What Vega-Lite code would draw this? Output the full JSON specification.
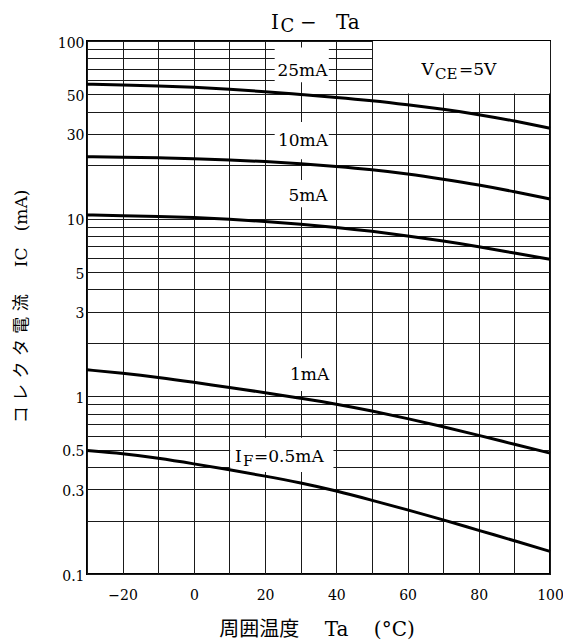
{
  "$schema": "https://vega.github.io/schema/vega-lite/v6.json",
  "width": 463,
  "height": 533,
  "autosize": {"type": "none"},
  "padding": {"left": 87, "top": 41, "right": 13, "bottom": 70},
  "background": "white",
  "config": {
    "view": {"stroke": "black", "strokeWidth": 2},
    "text": {"font": "DejaVu Serif", "color": "black"}
  },
  "datasets": {
    "curves": [
      {"T": -30, "Ic": 57.1, "s": "25mA"}, {"T": -20, "Ic": 56.6, "s": "25mA"}, {"T": -10, "Ic": 55.9, "s": "25mA"}, {"T": 0, "Ic": 55.0, "s": "25mA"}, {"T": 10, "Ic": 53.6, "s": "25mA"}, {"T": 20, "Ic": 51.9, "s": "25mA"}, {"T": 30, "Ic": 50.0, "s": "25mA"}, {"T": 40, "Ic": 48.2, "s": "25mA"}, {"T": 50, "Ic": 46.2, "s": "25mA"}, {"T": 60, "Ic": 43.8, "s": "25mA"}, {"T": 70, "Ic": 41.3, "s": "25mA"}, {"T": 80, "Ic": 38.6, "s": "25mA"}, {"T": 90, "Ic": 35.5, "s": "25mA"}, {"T": 100, "Ic": 32.3, "s": "25mA"},
      {"T": -30, "Ic": 22.3, "s": "10mA"}, {"T": -20, "Ic": 22.2, "s": "10mA"}, {"T": -10, "Ic": 22.0, "s": "10mA"}, {"T": 0, "Ic": 21.8, "s": "10mA"}, {"T": 10, "Ic": 21.4, "s": "10mA"}, {"T": 20, "Ic": 21.0, "s": "10mA"}, {"T": 30, "Ic": 20.4, "s": "10mA"}, {"T": 40, "Ic": 19.7, "s": "10mA"}, {"T": 50, "Ic": 18.9, "s": "10mA"}, {"T": 60, "Ic": 17.9, "s": "10mA"}, {"T": 70, "Ic": 16.7, "s": "10mA"}, {"T": 80, "Ic": 15.5, "s": "10mA"}, {"T": 90, "Ic": 14.2, "s": "10mA"}, {"T": 100, "Ic": 12.9, "s": "10mA"},
      {"T": -30, "Ic": 10.5, "s": "5mA"}, {"T": -20, "Ic": 10.4, "s": "5mA"}, {"T": -10, "Ic": 10.3, "s": "5mA"}, {"T": 0, "Ic": 10.15, "s": "5mA"}, {"T": 10, "Ic": 9.93, "s": "5mA"}, {"T": 20, "Ic": 9.64, "s": "5mA"}, {"T": 30, "Ic": 9.32, "s": "5mA"}, {"T": 40, "Ic": 8.94, "s": "5mA"}, {"T": 50, "Ic": 8.50, "s": "5mA"}, {"T": 60, "Ic": 8.0, "s": "5mA"}, {"T": 70, "Ic": 7.49, "s": "5mA"}, {"T": 80, "Ic": 6.96, "s": "5mA"}, {"T": 90, "Ic": 6.40, "s": "5mA"}, {"T": 100, "Ic": 5.91, "s": "5mA"},
      {"T": -30, "Ic": 1.41, "s": "1mA"}, {"T": -20, "Ic": 1.35, "s": "1mA"}, {"T": -10, "Ic": 1.28, "s": "1mA"}, {"T": 0, "Ic": 1.20, "s": "1mA"}, {"T": 10, "Ic": 1.12, "s": "1mA"}, {"T": 20, "Ic": 1.05, "s": "1mA"}, {"T": 30, "Ic": 0.975, "s": "1mA"}, {"T": 40, "Ic": 0.905, "s": "1mA"}, {"T": 50, "Ic": 0.828, "s": "1mA"}, {"T": 60, "Ic": 0.750, "s": "1mA"}, {"T": 70, "Ic": 0.675, "s": "1mA"}, {"T": 80, "Ic": 0.603, "s": "1mA"}, {"T": 90, "Ic": 0.537, "s": "1mA"}, {"T": 100, "Ic": 0.479, "s": "1mA"},
      {"T": -30, "Ic": 0.495, "s": "0.5mA"}, {"T": -20, "Ic": 0.476, "s": "0.5mA"}, {"T": -10, "Ic": 0.449, "s": "0.5mA"}, {"T": 0, "Ic": 0.417, "s": "0.5mA"}, {"T": 10, "Ic": 0.386, "s": "0.5mA"}, {"T": 20, "Ic": 0.356, "s": "0.5mA"}, {"T": 30, "Ic": 0.326, "s": "0.5mA"}, {"T": 40, "Ic": 0.294, "s": "0.5mA"}, {"T": 50, "Ic": 0.260, "s": "0.5mA"}, {"T": 60, "Ic": 0.230, "s": "0.5mA"}, {"T": 70, "Ic": 0.202, "s": "0.5mA"}, {"T": 80, "Ic": 0.176, "s": "0.5mA"}, {"T": 90, "Ic": 0.154, "s": "0.5mA"}, {"T": 100, "Ic": 0.134, "s": "0.5mA"}
    ],
    "boxes": [
      {"T": 50.3, "T2": 100, "Ic": 50.7, "Ic2": 100},
      {"T": 22.7, "T2": 37.9, "Ic": 58.5, "Ic2": 92},
      {"T": 22.7, "T2": 37.9, "Ic": 21.6, "Ic2": 35},
      {"T": 25.5, "T2": 37.5, "Ic": 11.6, "Ic2": 16.5},
      {"T": 25.5, "T2": 37.5, "Ic": 1.07, "Ic2": 1.64},
      {"T": 10.2, "T2": 39.2, "Ic": 0.375, "Ic2": 0.585}
    ],
    "labels": [
      {"T": 30.5, "Ic": 67.8, "t": "25mA"},
      {"T": 30.65, "Ic": 27.4, "t": "10mA"},
      {"T": 32.05, "Ic": 13.33, "t": "5mA"},
      {"T": 32.5, "Ic": 1.31, "t": "1mA"}
    ],
    "mainPieces": [
      {"T": 63.92, "Ic": 64.4, "t": "V"},
      {"T": 74.45, "Ic": 64.4, "t": "=5V"},
      {"T": 11.56, "Ic": 0.4285, "t": "I"},
      {"T": 16.89, "Ic": 0.4285, "t": "=0.5mA"}
    ],
    "subPieces": [
      {"T": 67.71, "Ic": 61.5, "t": "CE"},
      {"T": 13.8, "Ic": 0.4055, "t": "F"}
    ],
    "titlePieces": [
      {"T": 21.66, "Ic": 117.3, "t": "I"},
      {"T": 29.81, "Ic": 117.3, "t": "−"},
      {"T": 39.91, "Ic": 117.3, "t": "Ta"}
    ],
    "titleSub": [
      {"T": 24.33, "Ic": 112.4, "t": "C"}
    ]
  },
  "encoding": {
    "x": {
      "field": "T", "type": "quantitative",
      "scale": {"domain": [-30, 100], "nice": false, "zero": false},
      "axis": {
        "values": [-30, -20, -10, 0, 10, 20, 30, 40, 50, 60, 70, 80, 90, 100],
        "labelExpr": "datum.value % 20 == 0 ? datum.label : ''",
        "grid": true, "gridColor": "#1a1a1a", "gridWidth": 1, "gridOpacity": 1,
        "ticks": false, "domain": false,
        "labelFont": "DejaVu Serif", "labelFontSize": 14, "labelColor": "black",
        "labelPadding": 14, "labelFlush": false, "labelOverlap": false, "labelBound": false,
        "title": "周囲温度\u00a0\u00a0\u00a0\u00a0Ta\u00a0\u00a0\u00a0\u00a0(°C)",
        "titleFont": "DejaVu Serif, Noto Sans CJK JP", "titleFontSize": 20, "titleFontWeight": "normal", "titleColor": "black",
        "titleX": 229.5, "titleY": 61, "titleAlign": "center", "titleBaseline": "alphabetic"
      }
    },
    "y": {
      "field": "Ic", "type": "quantitative",
      "scale": {"type": "log", "domain": [0.1, 100], "nice": false},
      "axis": {
        "values": [0.1, 0.2, 0.3, 0.4, 0.5, 0.6, 0.7, 0.8, 0.9, 1, 2, 3, 4, 5, 6, 7, 8, 9, 10, 20, 30, 40, 50, 60, 70, 80, 90, 100],
        "labelExpr": "indexof([0.1, 0.3, 0.5, 1, 3, 5, 10, 30, 50, 100], datum.value) >= 0 ? format(datum.value, '~g') : ''",
        "grid": true, "gridColor": "#1a1a1a", "gridWidth": 1, "gridOpacity": 1,
        "ticks": false, "domain": false,
        "labelFont": "DejaVu Serif", "labelFontSize": 14, "labelColor": "black",
        "labelPadding": 3, "labelOffset": 2, "labelOverlap": false, "labelBound": false, "labelFlush": false,
        "title": "コ\u00a0レ\u00a0ク\u00a0タ\u00a0電\u00a0流\u00a0\u00a0\u00a0\u00a0\u00a0IC\u00a0\u00a0\u00a0(mA)",
        "titleFont": "DejaVu Serif, Noto Sans CJK JP", "titleFontSize": 17, "titleFontWeight": "normal", "titleColor": "black",
        "titleX": -66, "titleY": 265, "titleAlign": "center", "titleBaseline": "middle", "titleAngle": -90
      }
    }
  },
  "layer": [
    {
      "data": {"name": "boxes"},
      "mark": {"type": "rect", "fill": "white", "stroke": null},
      "encoding": {"x2": {"field": "T2"}, "y2": {"field": "Ic2"}}
    },
    {
      "data": {"name": "curves"},
      "mark": {"type": "line", "color": "black", "strokeWidth": 3, "interpolate": "basis"},
      "encoding": {"detail": {"field": "s", "type": "nominal"}}
    },
    {
      "data": {"name": "labels"},
      "mark": {"type": "text", "fontSize": 17, "align": "center", "baseline": "middle", "font": "DejaVu Serif"},
      "encoding": {"text": {"field": "t"}}
    },
    {
      "data": {"name": "mainPieces"},
      "mark": {"type": "text", "fontSize": 17, "align": "left", "baseline": "alphabetic", "font": "DejaVu Serif"},
      "encoding": {"text": {"field": "t"}}
    },
    {
      "data": {"name": "subPieces"},
      "mark": {"type": "text", "fontSize": 15, "align": "left", "baseline": "alphabetic", "font": "DejaVu Serif"},
      "encoding": {"text": {"field": "t"}}
    },
    {
      "data": {"name": "titlePieces"},
      "mark": {"type": "text", "fontSize": 20, "align": "left", "baseline": "alphabetic", "font": "DejaVu Serif"},
      "encoding": {"text": {"field": "t"}}
    },
    {
      "data": {"name": "titleSub"},
      "mark": {"type": "text", "fontSize": 18, "align": "left", "baseline": "alphabetic", "font": "DejaVu Serif"},
      "encoding": {"text": {"field": "t"}}
    }
  ]
}
